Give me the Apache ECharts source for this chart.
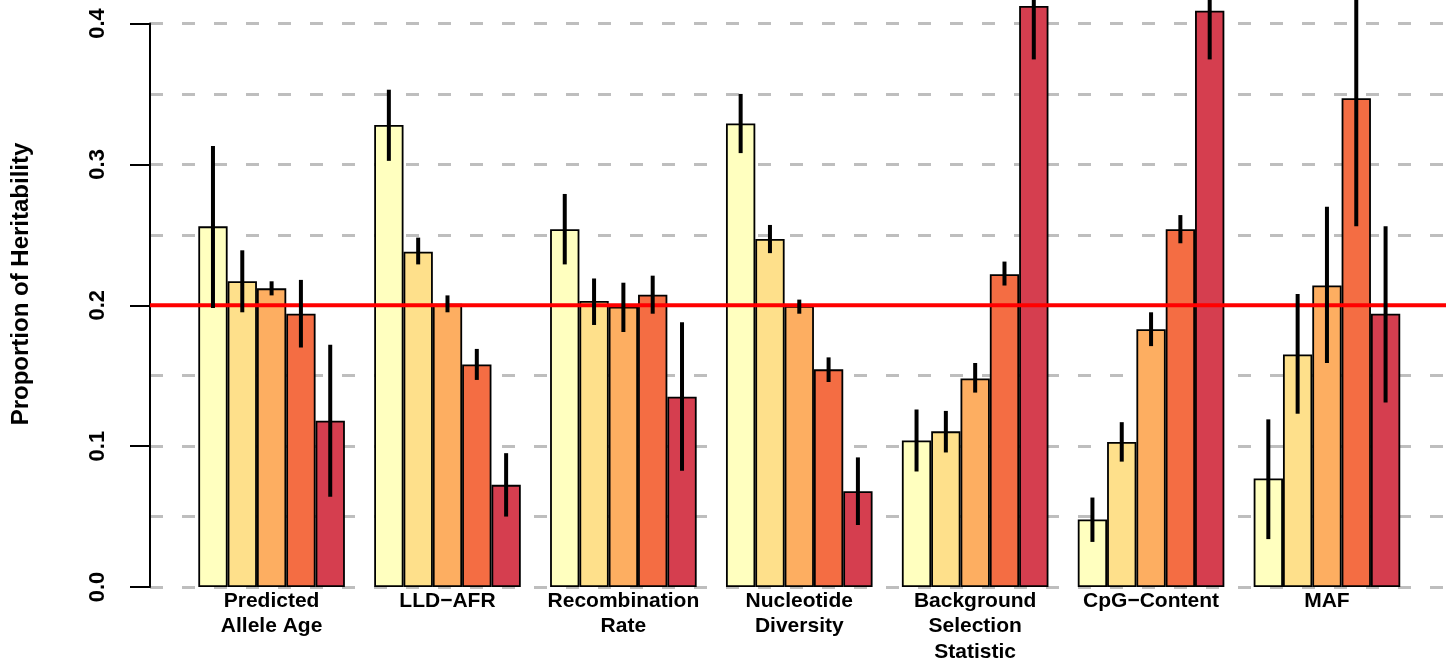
<!DOCTYPE html>
<html>
<head>
<meta charset="utf-8">
<script src="https://cdn.jsdelivr.net/npm/echarts@6/dist/echarts.min.js"></script>
<style>
  html, body { margin: 0; padding: 0; background: #fff; }
  #chart { width: 1446px; height: 660px; }
</style>
</head>
<body>
<div id="chart"></div>
<script>
// ---- data ----
const categories = ['Predicted\nAllele Age', 'LLD\u2212AFR', 'Recombination\nRate', 'Nucleotide\nDiversity', 'Background\nSelection\nStatistic', 'CpG\u2212Content', 'MAF'];
const seriesNames = ['Bin 1', 'Bin 2', 'Bin 3', 'Bin 4', 'Bin 5'];
const bin1 = [0.256, 0.328, 0.254, 0.329, 0.104, 0.048, 0.077];
const bin2 = [0.217, 0.238, 0.203, 0.247, 0.1105, 0.103, 0.165];
const bin3 = [0.212, 0.201, 0.199, 0.1995, 0.148, 0.183, 0.214];
const bin4 = [0.194, 0.158, 0.2075, 0.1545, 0.222, 0.254, 0.347];
const bin5 = [0.118, 0.0725, 0.135, 0.068, 0.4125, 0.409, 0.194];
const lo1 = [0.198, 0.3025, 0.229, 0.308, 0.082, 0.032, 0.034];
const hi1 = [0.313, 0.353, 0.279, 0.350, 0.126, 0.0635, 0.119];
const lo2 = [0.195, 0.229, 0.186, 0.237, 0.0955, 0.089, 0.123];
const hi2 = [0.239, 0.248, 0.219, 0.257, 0.125, 0.117, 0.208];
const lo3 = [0.207, 0.195, 0.181, 0.194, 0.138, 0.171, 0.159];
const hi3 = [0.217, 0.207, 0.216, 0.204, 0.159, 0.195, 0.270];
const lo4 = [0.170, 0.147, 0.194, 0.1455, 0.214, 0.244, 0.256];
const hi4 = [0.218, 0.169, 0.221, 0.163, 0.231, 0.264, 0.438];
const lo5 = [0.064, 0.050, 0.0825, 0.044, 0.3745, 0.3745, 0.131];
const hi5 = [0.172, 0.095, 0.188, 0.092, 0.450, 0.444, 0.256];
const refLine = 0.2;
const yTicks = [0, 0.1, 0.2, 0.3, 0.4];
const colors = ['#FFFFBF', '#FEE08B', '#FDAE61', '#F46D43', '#D53E4F'];

const values = [bin1, bin2, bin3, bin4, bin5];
const lows = [lo1, lo2, lo3, lo4, lo5];
const highs = [hi1, hi2, hi3, hi4, hi5];
const nSeries = values.length;

const FONT = '"Liberation Sans", Arial, Helvetica, sans-serif';

const errData = [];
for (let j = 0; j < nSeries; j++) {
  for (let i = 0; i < categories.length; i++) {
    errData.push([i, lows[j][i], highs[j][i], j]);
  }
}

const chart = echarts.init(document.getElementById('chart'), null, { renderer: 'canvas' });

const barSeries = values.map((v, j) => ({
  name: seriesNames[j],
  type: 'bar',
  xAxisIndex: 0,
  yAxisIndex: 0,
  data: v,
  barGap: '0%',
  barCategoryGap: '16.6667%',
  clip: false,
  z: 2,
  itemStyle: { color: colors[j], borderColor: '#000', borderWidth: 1.8 },
  emphasis: { disabled: true },
  silent: true
}));

const option = {
  animation: false,
  backgroundColor: '#fff',
  grid: [
    { left: 183.65, right: 31.1, top: 23.5, bottom: 73, containLabel: false, outerBoundsMode: 'none' },
    { left: 150, right: 0, top: 23.5, bottom: 73, containLabel: false, outerBoundsMode: 'none' }
  ],
  xAxis: [
    {
      type: 'category', gridIndex: 0, data: categories,
      axisLine: { show: false }, axisTick: { show: false },
      axisLabel: {
        interval: 0, margin: 1,
        fontFamily: FONT, fontWeight: 'bold', fontSize: 21, lineHeight: 25.5, color: '#000'
      },
      splitLine: { show: false }
    },
    { type: 'value', gridIndex: 1, min: 0, max: 1, show: false }
  ],
  yAxis: [
    { type: 'value', gridIndex: 0, min: 0, max: 0.4, show: false },
    {
      type: 'value', gridIndex: 1, min: 0, max: 0.4, interval: 0.1,
      axisLine: { show: true, lineStyle: { color: '#000', width: 2 } },
      axisTick: { show: true, length: 20, inside: false, lineStyle: { color: '#000', width: 2 } },
      axisLabel: {
        rotate: 90, margin: 41,
        fontFamily: FONT, fontWeight: 'bold', fontSize: 22, color: '#000',
        formatter: (v) => yTicks.some(t => Math.abs(t - v) < 1e-9) ? v.toFixed(1) : ''
      },
      splitLine: { show: false }
    },
    {
      type: 'value', gridIndex: 1, min: 0, max: 0.4, interval: 0.05,
      axisLine: { show: false }, axisTick: { show: false }, axisLabel: { show: false },
      splitLine: { show: true, lineStyle: { color: '#BEBEBE', width: 3, type: [13, 19] } }
    }
  ],
  graphic: [
    {
      type: 'text', x: 21, y: 284, rotation: Math.PI / 2,
      style: {
        text: 'Proportion of Heritability', fontFamily: FONT, fontWeight: 'bold', fontSize: 24,
        fill: '#000', align: 'center', verticalAlign: 'middle'
      },
      silent: true
    }
  ],
  series: barSeries.concat([
    {
      name: 'reference',
      type: 'line', xAxisIndex: 1, yAxisIndex: 1,
      data: [[0, refLine], [1, refLine]],
      symbol: 'none', z: 3, silent: true,
      lineStyle: { color: '#FF0000', width: 4 }
    },
    {
      name: 'error',
      type: 'custom', xAxisIndex: 0, yAxisIndex: 0,
      data: errData, clip: false, z: 4, silent: true,
      encode: { x: 0, y: [1, 2] },
      renderItem: function (params, api) {
        const cat = api.value(0);
        const j = api.value(3);
        const band = api.size([1, 0])[0];
        const p0 = api.coord([cat, api.value(1)]);
        const p1 = api.coord([cat, api.value(2)]);
        const x = p0[0] + (j - (nSeries - 1) / 2) * band / 6;
        return {
          type: 'line',
          shape: { x1: x, y1: p0[1], x2: x, y2: p1[1] },
          style: { stroke: '#000', lineWidth: 4 }
        };
      }
    }
  ])
};

chart.setOption(option);
</script>
</body>
</html>
